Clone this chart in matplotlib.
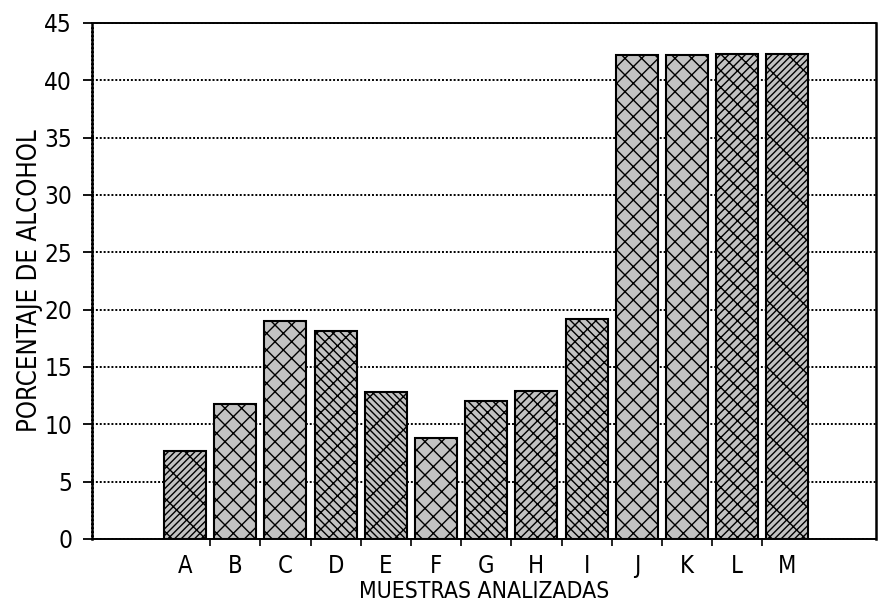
import matplotlib
matplotlib.use("Agg")
import matplotlib.pyplot as plt
import numpy as np

categories = ["A", "B", "C", "D", "E", "F", "G", "H", "I", "J", "K", "L", "M"]
values = [7.7, 11.8, 19.0, 18.1, 12.8, 8.8, 12.0, 12.9, 19.2, 42.2, 42.2, 42.3, 42.3]
yticks = [0, 5, 10, 15, 20, 25, 30, 35, 40, 45]
hatches = ["////x", "xx", "xx", "xx\\\\", "\\\\\\\\x", "xx", "xx\\\\", "xx//",
           "xx\\\\", "xx", "xx", "xx//", "////x"]

plt.rcParams["font.family"] = ["DejaVu Sans"]
plt.rcParams["font.stretch"] = "condensed"
plt.rcParams["hatch.linewidth"] = 1.0

fig = plt.figure(figsize=(8.86, 6.13), dpi=100)
ax = fig.add_axes([0.104, 0.121, 0.885, 0.8415])

x = np.arange(len(categories))
for xi, v, h in zip(x, values, hatches):
    ax.bar(xi, v, width=0.84, facecolor="#c2c2c2", edgecolor="black",
           hatch=h, linewidth=1.5, zorder=3)

ax.set_xlim(-1.85, 13.77)
ax.set_ylim(0, 45)
ax.set_yticks(yticks)
ax.set_yticklabels([str(t) for t in yticks], fontsize=17.5)
for t in yticks:
    ax.axhline(t, color="black", linestyle=(0, (1, 1)), linewidth=1.4, zorder=1)

ax.set_xticks(x)
ax.set_xticklabels(categories, fontsize=17)
ax.set_xticks(x[:-1] + 0.5, minor=True)
ax.tick_params(axis="x", which="major", length=0, pad=11)
ax.tick_params(axis="x", which="minor", length=5, width=1.2, direction="out")
ax.tick_params(axis="y", length=6.5, width=1.3, pad=8)

ax.spines["left"].set_linestyle((0, (1, 0.6)))
ax.spines["left"].set_linewidth(1.8)
ax.spines["bottom"].set_linestyle((0, (1, 1)))
ax.spines["bottom"].set_linewidth(1.4)
ax.spines["top"].set_linestyle((0, (1, 1)))
ax.spines["top"].set_linewidth(1.4)
ax.spines["right"].set_linewidth(1.8)

ax.set_xlabel("MUESTRAS ANALIZADAS", fontsize=16.5, labelpad=1.5)
ax.set_ylabel("PORCENTAJE DE ALCOHOL", fontsize=18.5, labelpad=0.5)

fig.savefig("out.png", dpi=100)
